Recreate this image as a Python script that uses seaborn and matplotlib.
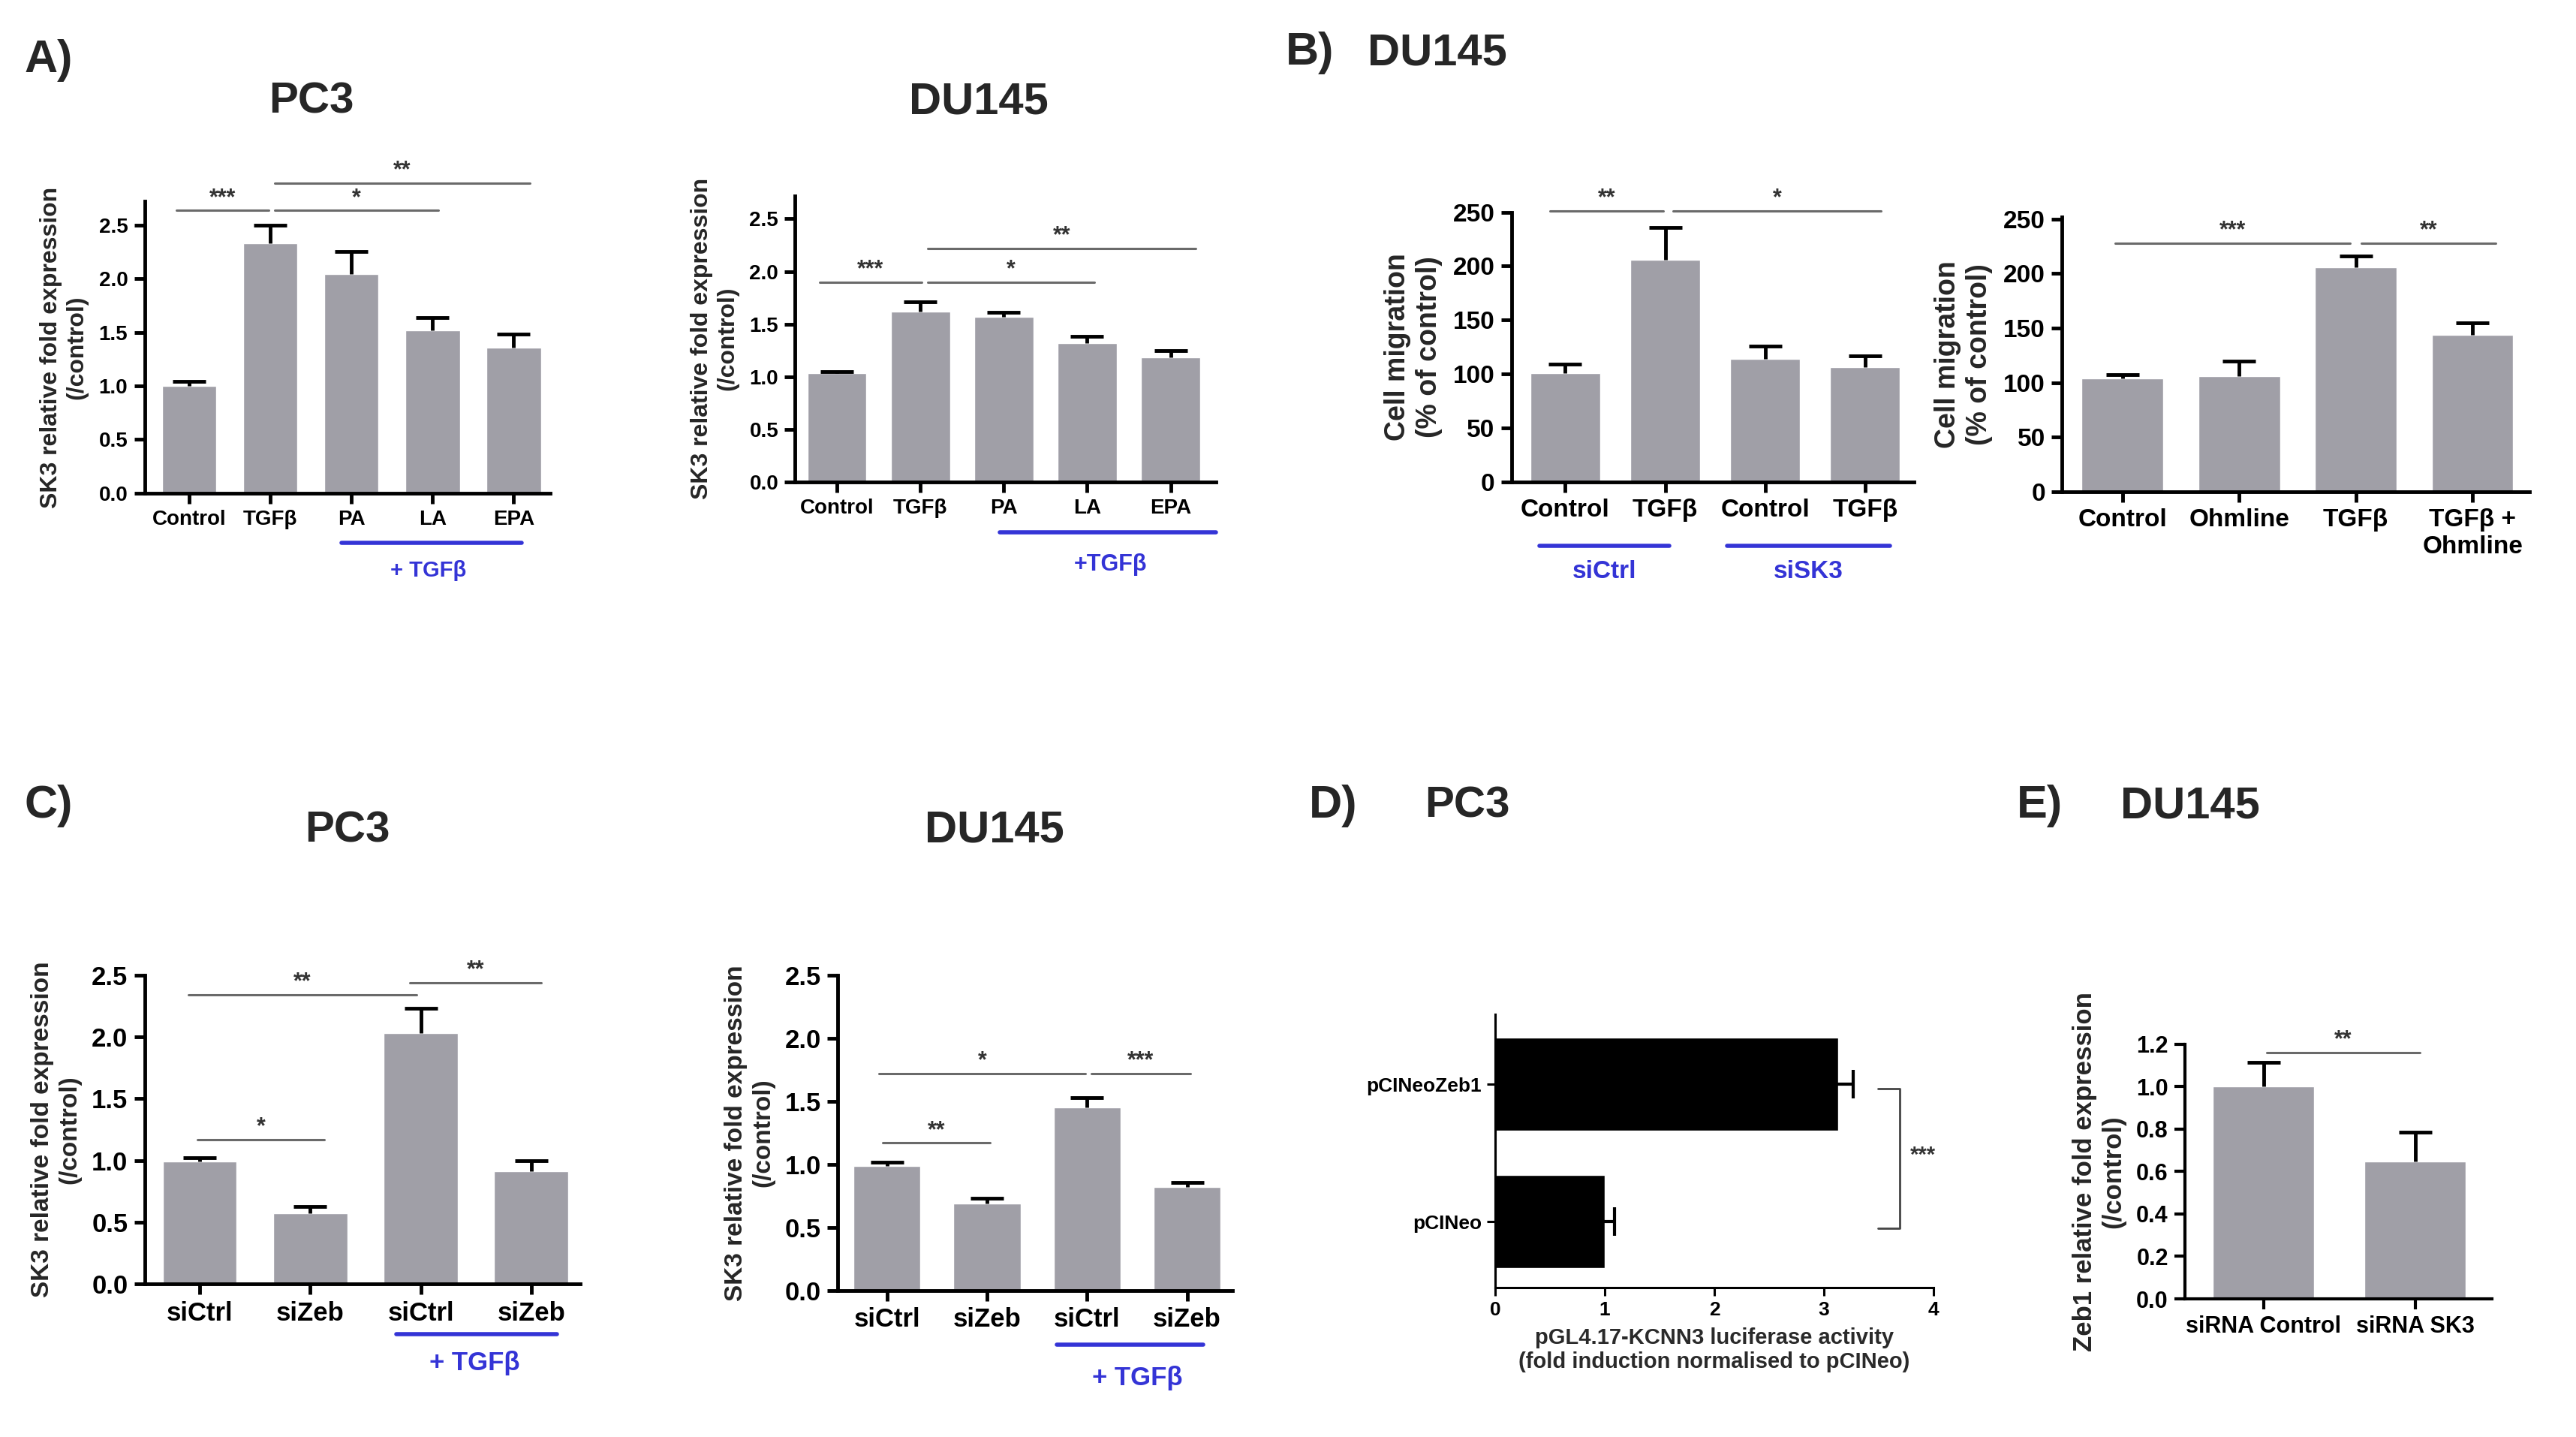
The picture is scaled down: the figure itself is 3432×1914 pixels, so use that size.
import numpy as np
import matplotlib
matplotlib.use('Agg')
import matplotlib.pyplot as plt
import matplotlib.transforms as mtransforms
import seaborn as sns

sns.set_style('white')
plt.rcParams['font.family'] = ['Liberation Sans', 'DejaVu Sans']
plt.rcParams['font.weight'] = 'bold'

GRAY = '#a09fa7'
BLUE = '#3434d6'
SIG = '#6a6a6a'

# ---- data ----
# A) SK3 expression after TGFb + fatty acids
a_labels = ['Control', 'TGFβ', 'PA', 'LA', 'EPA']
a_pc3_mean = [1.00, 2.33, 2.04, 1.52, 1.36]
a_pc3_err = [0.04, 0.17, 0.21, 0.12, 0.12]
a_du_mean = [1.03, 1.62, 1.57, 1.32, 1.18]
a_du_err = [0.02, 0.09, 0.04, 0.06, 0.07]

# B) DU145 migration
b1_labels = ['Control', 'TGFβ', 'Control', 'TGFβ']
b1_mean = [101, 206, 114, 106]
b1_err = [8, 30, 12, 11]
b2_labels = ['Control', 'Ohmline', 'TGFβ', 'TGFβ +\nOhmline']
b2_mean = [104, 106, 206, 144]
b2_err = [3, 14, 10, 11]

# C) SK3 expression after Zeb1 knockdown
c_labels = ['siCtrl', 'siZeb', 'siCtrl', 'siZeb']
c_pc3_mean = [0.99, 0.57, 2.03, 0.91]
c_pc3_err = [0.03, 0.06, 0.20, 0.09]
c_du_mean = [0.99, 0.69, 1.45, 0.82]
c_du_err = [0.03, 0.04, 0.08, 0.04]

# D) luciferase
d_labels = ['pCINeoZeb1', 'pCINeo']
d_mean = [3.13, 1.00]
d_err = [0.14, 0.09]

# E) Zeb1 expression after SK3 knockdown
e_labels = ['siRNA Control', 'siRNA SK3']
e_mean = [1.00, 0.646]
e_err = [0.115, 0.14]

fig = plt.figure(figsize=(34.32, 19.14), dpi=100)


def bar_panel(rect, labels, mean, err, ylim, yticks, ytl, xlim, width, tick_fs,
              ylabel, ylab_fs, lw=3.5):
    ax = fig.add_axes(rect)
    x = np.arange(len(labels))
    sns.barplot(x=x, y=mean, color=GRAY, width=width, saturation=1,
                errorbar=None, ax=ax)
    eb = ax.errorbar(x, mean, yerr=[np.zeros(len(x)), err], fmt='none',
                     ecolor='black', elinewidth=3.5, capsize=16, capthick=3.5)
    eb[1][0].set_visible(False)
    ax.set_xlim(xlim)
    ax.set_ylim(ylim)
    ax.set_yticks(yticks)
    ax.set_yticklabels(ytl)
    ax.set_xticks(x)
    ax.set_xticklabels(labels)
    sns.despine(ax=ax)
    for s in ['left', 'bottom']:
        ax.spines[s].set_linewidth(lw)
        ax.spines[s].set_color('black')
    ax.tick_params(direction='out', length=10, width=lw, labelsize=tick_fs,
                   colors='black', pad=6, left=True, bottom=True)
    for t in ax.get_xticklabels() + ax.get_yticklabels():
        t.set_fontweight('bold')
    ax.set_ylabel(ylabel, fontsize=ylab_fs, fontweight='bold', labelpad=10)
    ax.set_xlabel('')
    ax.patch.set_alpha(0)
    return ax


def sig(ax, x1, x2, y, text, fs=22):
    ax.plot([x1, x2], [y, y], color=SIG, lw=2.2, clip_on=False)
    ax.annotate(text, ((x1 + x2) / 2, y), xytext=(0, 1), textcoords='offset points',
                ha='center', va='bottom', fontsize=fs, color='#333333',
                fontweight='bold', annotation_clip=False)


def group(ax, x1, x2, yline, label, xlab, ylab, fs):
    tr = mtransforms.blended_transform_factory(ax.transData, ax.transAxes)
    ax.plot([x1, x2], [yline, yline], color=BLUE, lw=4, transform=tr, clip_on=False)
    ax.text(xlab, ylab, label, transform=tr, ha='center', va='center',
            color=BLUE, fontsize=fs, fontweight='bold')


ylab_sk3 = 'SK3 relative fold expression\n(/control)'
t25 = [0, 0.5, 1.0, 1.5, 2.0, 2.5]
t25l = ['0.0', '0.5', '1.0', '1.5', '2.0', '2.5']

# ---- A) PC3 ----
ax = bar_panel([0.0561, 0.6568, 0.1575, 0.203], a_labels, a_pc3_mean, a_pc3_err,
               (0, 2.72), t25, t25l, (-0.55, 4.45), 0.67, 20, ylab_sk3, 23)
sig(ax, -0.16, 0.98, 2.635, '***')
sig(ax, 1.05, 3.07, 2.635, '*')
sig(ax, 1.05, 4.2, 2.89, '**')
group(ax, 1.88, 4.1, -0.17, '+ TGFβ', 2.95, -0.265, 21)

# ---- A) DU145 ----
ax = bar_panel([0.3087, 0.6648, 0.1632, 0.199], a_labels, a_du_mean, a_du_err,
               (0, 2.72), t25, t25l, (-0.5, 4.54), 0.71, 20, ylab_sk3, 23)
sig(ax, -0.21, 1.02, 1.90, '***')
sig(ax, 1.09, 3.09, 1.90, '*')
sig(ax, 1.09, 4.3, 2.22, '**')
group(ax, 1.95, 4.54, -0.178, '+TGFβ', 3.28, -0.29, 22)

# ---- B) migration siSK3 ----
mig_t = [0, 50, 100, 150, 200, 250]
mig_l = [str(v) for v in mig_t]
ylab_mig = 'Cell migration\n(% of control)'
ax = bar_panel([0.5867, 0.6648, 0.1563, 0.1876], b1_labels, b1_mean, b1_err,
               (0, 250), mig_t, mig_l, (-0.54, 3.49), 0.70, 24, ylab_mig, 27)
sig(ax, -0.15, 0.98, 251, '**')
sig(ax, 1.08, 3.16, 251, '*')
group(ax, -0.26, 1.04, -0.238, 'siCtrl', 0.39, -0.335, 24)
group(ax, 1.62, 3.25, -0.238, 'siSK3', 2.43, -0.335, 24)

# ---- B) migration Ohmline ----
ax = bar_panel([0.8004, 0.658, 0.1816, 0.191], b2_labels, b2_mean, b2_err,
               (0, 252), mig_t, mig_l, (-0.52, 3.49), 0.70, 24, ylab_mig, 27)
sig(ax, -0.06, 1.95, 228, '***')
sig(ax, 2.05, 3.2, 228, '**')

# ---- C) PC3 ----
ax = bar_panel([0.0561, 0.1064, 0.169, 0.2151], c_labels, c_pc3_mean, c_pc3_err,
               (0, 2.5), t25, t25l, (-0.5, 3.44), 0.67, 25, ylab_sk3, 24)
sig(ax, -0.02, 1.13, 1.17, '*')
sig(ax, -0.10, 1.96, 2.34, '**')
sig(ax, 1.90, 3.09, 2.44, '**')
group(ax, 1.78, 3.23, -0.163, '+ TGFβ', 2.49, -0.256, 25)

# ---- C) DU145 ----
ax = bar_panel([0.3253, 0.1018, 0.153, 0.2197], c_labels, c_du_mean, c_du_err,
               (0, 2.5), t25, t25l, (-0.49, 3.45), 0.67, 25, ylab_sk3, 24)
sig(ax, -0.04, 1.03, 1.17, '**')
sig(ax, -0.08, 1.98, 1.72, '*')
sig(ax, 2.04, 3.03, 1.72, '***')
group(ax, 1.70, 3.16, -0.171, '+ TGFβ', 2.50, -0.276, 25)

# ---- D) luciferase ----
ax = fig.add_axes([0.5804, 0.1041, 0.1702, 0.19])
sns.barplot(x=d_mean, y=d_labels, orient='h', color='black', width=0.68,
            saturation=1, errorbar=None, ax=ax)
ax.errorbar(d_mean, np.arange(len(d_labels)), xerr=d_err, fmt='none',
            ecolor='black', elinewidth=3, capsize=14, capthick=3)
ax.set_xlim(0, 4)
ax.set_ylim(1.48, -0.51)
ax.set_xticks([0, 1, 2, 3, 4])
sns.despine(ax=ax)
for s in ['left', 'bottom']:
    ax.spines[s].set_linewidth(2.2)
    ax.spines[s].set_color('black')
ax.tick_params(direction='out', length=8, width=2.2, labelsize=19, pad=5,
               left=True, bottom=True, colors='black')
for t in ax.get_xticklabels() + ax.get_yticklabels():
    t.set_fontweight('bold')
ax.set_ylabel('')
ax.set_xlabel('pGL4.17-KCNN3 luciferase activity\n(fold induction normalised to pCINeo)',
              fontsize=21, fontweight='bold', color='#2a2a2a', labelpad=8)
ax.plot([3.49, 3.69, 3.69, 3.49], [0.03, 0.03, 1.05, 1.05], color='#444444',
        lw=2, clip_on=False)
ax.text(3.9, 0.52, '***', ha='center', va='center', fontsize=21, color='#333333')

# ---- E) Zeb1 ----
e_t = [0, 0.2, 0.4, 0.6, 0.8, 1.0, 1.2]
e_tl = ['%.1f' % v for v in e_t]
ax = bar_panel([0.8482, 0.0961, 0.1193, 0.1774], e_labels, e_mean, e_err,
               (0, 1.2), e_t, e_tl, (-0.52, 1.51), 0.67, 22,
               'Zeb1 relative fold expression\n(/control)', 25, lw=3)
sig(ax, 0.02, 1.03, 1.16, '**')

# ---- panel letters and titles ----
def ftext(x, y, s, fs, ha='left'):
    fig.text(x, y, s, fontsize=fs, fontweight='bold', ha=ha, va='center')

ftext(0.0096, 0.958, 'A)', 44)
ftext(0.121, 0.929, 'PC3', 42, 'center')
ftext(0.380, 0.929, 'DU145', 43, 'center')
ftext(0.499, 0.963, 'B)', 44)
ftext(0.531, 0.963, 'DU145', 43)
ftext(0.0096, 0.439, 'C)', 44)
ftext(0.135, 0.422, 'PC3', 42, 'center')
ftext(0.386, 0.422, 'DU145', 43, 'center')
ftext(0.508, 0.439, 'D)', 44)
ftext(0.553, 0.439, 'PC3', 42)
ftext(0.783, 0.439, 'E)', 44)
ftext(0.823, 0.439, 'DU145', 43)

fig.savefig('out.png', dpi=100, facecolor='white')
